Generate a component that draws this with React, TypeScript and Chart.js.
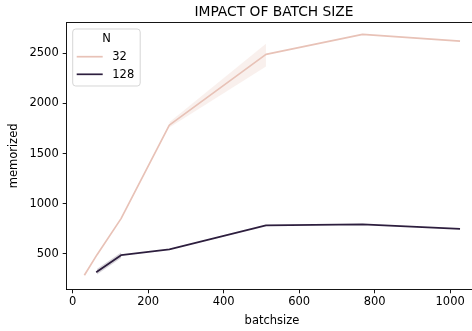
import React, { useEffect, useRef } from "react";
import { Chart, registerables } from "chart.js";

Chart.register(...registerables);

const batchSizes32 = [32, 64, 128, 256, 512, 768, 1024];
const memorized32 = [295, 490, 852, 1784, 2490, 2690, 2623];
const lower32: (number | null)[] = [null, null, null, 1760, 2370, null, null];
const upper32: (number | null)[] = [null, null, null, 1812, 2595, null, null];

const batchSizes128 = [64, 128, 256, 512, 768, 1024];
const memorized128 = [322, 487, 545, 785, 795, 750];
const lower128: (number | null)[] = [295, 458, null, null, null, null];
const upper128: (number | null)[] = [350, 515, null, null, null, null];

const seriesNames = ["32", "128"];
const xTicks = [0, 200, 400, 600, 800, 1000];
const yTicks = [500, 1000, 1500, 2000, 2500];

const COLOR_32 = "#e8c2b7";
const COLOR_128 = "#2d1e3e";
const BAND_32 = "rgba(232,194,183,0.25)";
const BAND_128 = "rgba(45,30,62,0.2)";
const FONT = "'DejaVu Sans', sans-serif";

const pts = (xs: number[], ys: (number | null)[]) => xs.map((x, i) => ({ x, y: ys[i] }));

export default function App() {
  const ref = useRef<HTMLCanvasElement | null>(null);

  useEffect(() => {
    if (!ref.current) return;
    const decor = {
      id: "decor",
      afterDraw(chart: any) {
        const { ctx, chartArea } = chart;
        ctx.save();
        ctx.strokeStyle = "#000";
        ctx.lineWidth = 0.92;
        ctx.beginPath();
        ctx.moveTo(chartArea.left, chartArea.top);
        ctx.lineTo(chartArea.right, chartArea.top);
        ctx.stroke();
        ctx.fillStyle = "#000";
        ctx.font = `13.8px ${FONT}`;
        ctx.textAlign = "center";
        ctx.textBaseline = "alphabetic";
        ctx.fillText("IMPACT OF BATCH SIZE", 274, 15.8);
        const lx = 72.7, ly = 29, lw = 67.5, lh = 57, r = 3;
        ctx.beginPath();
        ctx.moveTo(lx + r, ly);
        ctx.lineTo(lx + lw - r, ly);
        ctx.arcTo(lx + lw, ly, lx + lw, ly + r, r);
        ctx.lineTo(lx + lw, ly + lh - r);
        ctx.arcTo(lx + lw, ly + lh, lx + lw - r, ly + lh, r);
        ctx.lineTo(lx + r, ly + lh);
        ctx.arcTo(lx, ly + lh, lx, ly + lh - r, r);
        ctx.lineTo(lx, ly + r);
        ctx.arcTo(lx, ly, lx + r, ly, r);
        ctx.closePath();
        ctx.fillStyle = "rgba(255,255,255,0.8)";
        ctx.fill();
        ctx.strokeStyle = "rgba(204,204,204,0.8)";
        ctx.lineWidth = 1;
        ctx.stroke();
        ctx.font = `11.5px ${FONT}`;
        ctx.fillStyle = "#000";
        ctx.textAlign = "center";
        ctx.textBaseline = "middle";
        ctx.fillText("N", 106.5, 38.8);
        const colors = [COLOR_32, COLOR_128];
        const ys = [56.7, 74.3];
        seriesNames.forEach((name, i) => {
          ctx.strokeStyle = colors[i];
          ctx.lineWidth = 1.7;
          ctx.beginPath();
          ctx.moveTo(76.7, ys[i]);
          ctx.lineTo(102.7, ys[i]);
          ctx.stroke();
          ctx.fillStyle = "#000";
          ctx.textAlign = "left";
          ctx.fillText(name, 112.3, ys[i] + 0.5);
        });
        ctx.restore();
      },
    };

    const tickFont = { family: FONT, size: 11.5 };
    const fmt = (v: any) => String(v);
    const chart = new Chart(ref.current, {
      type: "line",
      data: {
        datasets: [
          { data: pts(batchSizes32, lower32), borderWidth: 0, pointRadius: 0, fill: false, borderColor: "transparent", spanGaps: false },
          { data: pts(batchSizes32, upper32), borderWidth: 0, pointRadius: 0, fill: "-1", backgroundColor: BAND_32, borderColor: "transparent", spanGaps: false },
          { data: pts(batchSizes128, lower128), borderWidth: 0, pointRadius: 0, fill: false, borderColor: "transparent", spanGaps: false },
          { data: pts(batchSizes128, upper128), borderWidth: 0, pointRadius: 0, fill: "-1", backgroundColor: BAND_128, borderColor: "transparent", spanGaps: false },
          { label: "32", data: pts(batchSizes32, memorized32), borderColor: COLOR_32, borderWidth: 1.7, pointRadius: 0, fill: false, borderJoinStyle: "round", borderCapStyle: "square" },
          { label: "128", data: pts(batchSizes128, memorized128), borderColor: COLOR_128, borderWidth: 1.7, pointRadius: 0, fill: false, borderJoinStyle: "round", borderCapStyle: "square" },
        ],
      },
      options: {
        responsive: false,
        animation: false,
        layout: { padding: { top: 22.5, right: 2.7, left: 0, bottom: 0 } },
        plugins: { legend: { display: false }, tooltip: { enabled: false }, title: { display: false } },
        scales: {
          x: {
            type: "linear",
            min: -16,
            max: 1072,
            afterBuildTicks: (axis: any) => { axis.ticks = xTicks.map((v) => ({ value: v })); },
            afterFit: (axis: any) => { axis.height = 41.7; },
            grid: { drawOnChartArea: false, drawTicks: true, tickLength: 4, tickColor: "#000", tickWidth: 0.92 },
            border: { display: true, color: "#000", width: 0.92 },
            ticks: { color: "#000", font: tickFont, padding: 2, maxRotation: 0, autoSkip: false, callback: fmt },
            title: { display: true, text: "batchsize", color: "#000", font: tickFont, padding: { top: 0, bottom: 3.4 } },
          },
          y: {
            type: "linear",
            min: 147,
            max: 2808,
            afterBuildTicks: (axis: any) => { axis.ticks = yTicks.map((v) => ({ value: v })); },
            afterFit: (axis: any) => { axis.width = 66.7; },
            grid: { drawOnChartArea: false, drawTicks: true, tickLength: 4, tickColor: "#000", tickWidth: 0.92 },
            border: { display: true, color: "#000", width: 0.92 },
            ticks: { color: "#000", font: tickFont, padding: 4, autoSkip: false, callback: fmt },
            title: { display: true, text: "memorized", color: "#000", font: tickFont, padding: { top: 7, bottom: 0 } },
          },
        },
      },
      plugins: [decor],
    } as any);
    return () => chart.destroy();
  }, []);

  return (
    <div style={{ position: "fixed", left: 0, top: 0, width: 472, height: 331, overflow: "hidden", background: "#fff" }}>
      <canvas ref={ref} width={480} height={331} style={{ display: "block" }} />
    </div>
  );
}
